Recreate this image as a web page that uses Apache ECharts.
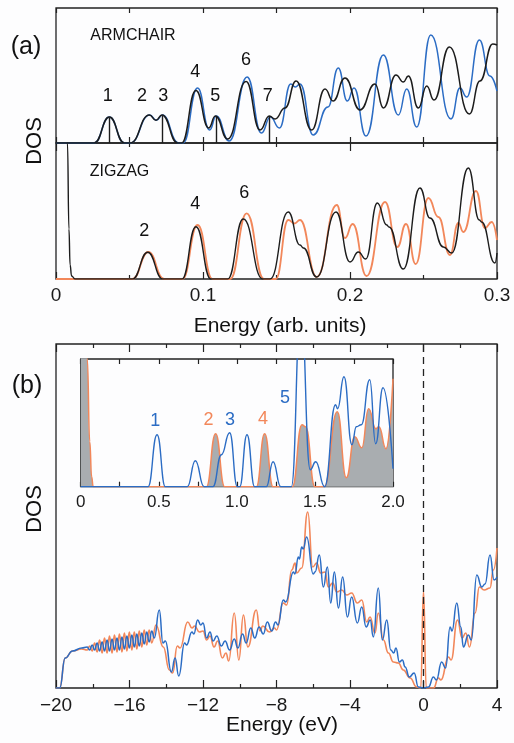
<!DOCTYPE html>
<html><head><meta charset="utf-8">
<script src="https://cdn.jsdelivr.net/npm/echarts@6/dist/echarts.min.js"></script>
<style>html,body{margin:0;padding:0;background:#fdfdfe}#c{width:514px;height:743px}</style>
</head><body><div id="c"></div><script>
// ---- Panel (a) ARMCHAIR: [energy (arb. units), DOS] ----
const armchairBlack = [[0,0],[0.026,0],[0.0363,26],[0.0465,0],[0.0505,0],[0.0635,28],[0.068,22.7],[0.0721,28],[0.0828,0],[0.0855,0],[0.0952,52.6],[0.1039,15],[0.1084,27],[0.1168,4],[0.1293,61.6],[0.1388,13],[0.1451,27],[0.149,24],[0.1558,35],[0.1633,62],[0.1739,13],[0.183,54],[0.1885,42],[0.1966,65],[0.2068,33],[0.217,59],[0.2227,35],[0.2313,68],[0.2363,61],[0.2397,67],[0.2465,35],[0.2522,57],[0.2571,43],[0.2676,96],[0.2812,29],[0.2884,62],[0.2971,99],[0.3,98]];
const armchairBlue = [[0,0],[0.026,0],[0.0363,26],[0.0465,0],[0.0505,0],[0.0638,28],[0.0683,22.7],[0.0724,28],[0.0833,0],[0.0865,0],[0.0963,55],[0.1045,13],[0.109,27],[0.1178,2],[0.13,66],[0.1398,10],[0.1458,26],[0.152,15],[0.1597,59],[0.1628,56],[0.166,59],[0.175,8],[0.185,36],[0.192,75],[0.1982,42],[0.2027,55],[0.2109,7],[0.2227,88],[0.2329,28],[0.2386,54],[0.2454,16],[0.2549,108],[0.2687,24],[0.2748,55],[0.2794,46],[0.288,103],[0.2952,67],[0.3,52]];
const armchairSticks = [[0.0363,25],[0.0726,27],[0.1088,26],[0.1451,27]];
const armchairPeakLabels = ['1','2','3','4','5','6','7'];
// ---- Panel (a) ZIGZAG ----
const zigzagBlack = [[0,900],[0.005,400],[0.0078,136],[0.0088,50],[0.0096,14],[0.0106,3],[0.013,0],[0.052,0],[0.0624,26.7],[0.0726,0],[0.0857,0],[0.0952,52.3],[0.1054,0],[0.1168,0],[0.1274,60],[0.1406,0],[0.1456,0],[0.158,67],[0.166,34],[0.1683,31],[0.1773,2],[0.1905,67],[0.2,17],[0.2057,27],[0.2107,20],[0.2186,76],[0.225,54],[0.2265,52],[0.2363,10],[0.2476,91],[0.2544,61],[0.2635,32],[0.2692,26],[0.2805,111],[0.288,59],[0.2895,57],[0.2986,16],[0.3,26]];
const zigzagOrange = [[0,0],[0.052,0],[0.0628,27],[0.0735,0],[0.086,0],[0.0963,54],[0.1065,0],[0.1185,0],[0.1297,65.7],[0.1415,0],[0.1495,0],[0.158,59],[0.1622,55.5],[0.166,59],[0.1773,2],[0.191,74],[0.1966,41],[0.2018,55],[0.2113,3],[0.2238,77],[0.2322,32],[0.2381,55],[0.2447,15],[0.2533,81],[0.2601,62],[0.268,24],[0.2737,56],[0.2771,47],[0.2857,88],[0.2918,51],[0.2964,57],[0.3,39]];
const zigzagPeakLabels = ['2','4','6'];
// ---- Panel (b) main: [energy (eV), DOS] ----
const bBlue = [[-20,0],[-19.8,0],[-19.5,30],[-19.1,37],[-18.6,40],[-18.3,41],[-18.17,38],[-18.03,43],[-17.9,38],[-17.76,45],[-17.63,37],[-17.49,46],[-17.36,37],[-17.22,48],[-17.09,37],[-16.95,49],[-16.82,38],[-16.68,50],[-16.55,38],[-16.41,51],[-16.28,39],[-16.14,52],[-16.01,40],[-15.87,53],[-15.74,41],[-15.6,54],[-15.47,42],[-15.33,55],[-15.2,44],[-15.06,56],[-14.93,46],[-14.79,57],[-14.65,50],[-14.38,78],[-14.18,45],[-14.05,47],[-13.72,16],[-13.52,30],[-13.32,12],[-13.0,45],[-12.9,43],[-12.6,56],[-12.5,54],[-12.29,68],[-12.12,63],[-12.0,65],[-11.8,50],[-11.62,56],[-11.45,47],[-11.25,52],[-11.0,42],[-10.8,47],[-10.55,38],[-10.3,49],[-10.1,40],[-9.85,54],[-9.65,45],[-9.4,60],[-9.18,50],[-8.95,61],[-8.72,54],[-8.5,66],[-8.26,57],[-8.05,66],[-7.92,63],[-7.63,88],[-7.5,86],[-7.08,116],[-7.0,114],[-6.81,131],[-6.75,129],[-6.63,141],[-6.55,139],[-6.36,151],[-6.0,114],[-5.9,116],[-5.67,133],[-5.45,101],[-5.23,121],[-5.05,85],[-4.85,116],[-4.63,80],[-4.4,111],[-4.14,71],[-3.91,91],[-3.6,65],[-3.36,81],[-3.12,61],[-2.9,68],[-2.73,51],[-2.46,100],[-2.24,48],[-2.0,68],[-1.78,38],[-1.62,35],[-1.5,40],[-1.31,26],[-1.15,28],[-1.0,21],[-0.77,11],[-0.51,15],[-0.28,1],[0,0],[0.27,1],[0.54,11],[0.7,8],[0.99,26],[1.2,20],[1.45,61],[1.55,57],[1.81,85],[2.03,61],[2.17,41],[2.44,53],[2.6,48],[2.9,113],[3.17,101],[3.35,104],[3.62,133],[3.84,108],[4.0,111]];
const bOrange = [[-20,0],[-19.8,0],[-19.5,30],[-19.1,37],[-18.6,39],[-18.3,38],[-18.17,42],[-18.03,37],[-17.9,45],[-17.76,36],[-17.63,48],[-17.49,35],[-17.36,50],[-17.22,35],[-17.09,52],[-16.95,35],[-16.82,53],[-16.68,36],[-16.55,54],[-16.41,36],[-16.28,55],[-16.14,37],[-16.01,56],[-15.87,38],[-15.74,56],[-15.6,39],[-15.47,57],[-15.33,41],[-15.2,58],[-15.06,43],[-14.93,58],[-14.79,45],[-14.56,63],[-14.16,41],[-13.83,18],[-13.65,15],[-13.4,42],[-13.25,40],[-12.83,66],[-12.6,60],[-12.45,62],[-12.2,56],[-12.0,57],[-11.8,48],[-11.62,52],[-11.4,41],[-11.2,47],[-10.95,30],[-10.75,35],[-10.6,27],[-10.3,75],[-10.05,28],[-9.8,73],[-9.56,41],[-9.1,78],[-8.9,57],[-8.75,62],[-8.38,56],[-8.11,60],[-8.0,58],[-7.63,85],[-7.45,83],[-7.17,118],[-6.99,125],[-6.9,115],[-6.63,120],[-6.3,176],[-6.03,121],[-5.81,125],[-5.6,115],[-5.36,116],[-5.18,101],[-4.94,105],[-4.72,96],[-4.45,98],[-4.18,93],[-3.91,95],[-3.6,85],[-3.36,88],[-3.09,66],[-2.91,71],[-2.64,55],[-2.46,75],[-2.18,48],[-1.91,35],[-1.64,26],[-1.37,25],[-1.1,18],[-0.73,10],[-0.37,1],[-0.15,0],[0.0,97],[0.15,0],[0.55,0],[0.81,10],[0.95,8],[1.36,31],[1.5,28],[1.85,68],[2.1,50],[2.3,55],[2.5,41],[2.81,75],[3.04,101],[3.3,98],[3.62,100],[3.8,118],[4.0,140]];
// ---- Panel (b) inset ----
const insetOrange = [[0,600],[0.035,200],[0.042,128],[0.058,45],[0.07,10],[0.08,0],[0.805,0],[0.864,53],[0.922,0],[1.125,0],[1.178,53],[1.232,0],[1.355,0],[1.417,62],[1.44,60],[1.5,0],[1.56,0],[1.643,75],[1.701,9],[1.755,50],[1.8,39],[1.844,78],[1.89,58],[1.91,60],[1.955,38],[2.0,108]];
const insetBlue = [[0,0],[0.431,0],[0.489,52],[0.542,0],[0.683,0],[0.734,26],[0.79,0],[0.847,0],[0.901,32],[0.954,54],[1.003,0],[1.018,0],[1.065,52],[1.114,0],[1.189,0],[1.232,25],[1.281,0],[1.349,0],[1.41,180],[1.47,17],[1.505,25],[1.562,0],[1.632,82],[1.645,78],[1.686,110],[1.737,42],[1.765,60],[1.797,62],[1.851,107],[1.889,43],[1.936,99],[2.0,18]];
const insetPeakLabels = ['1','2','3','4','5'];

const BLUE = '#2b6cc4', ORANGE = '#f2875a', BLACK = '#1c1c1c', GRAY = '#a9adb0';
const FONT = "'Liberation Sans', Arial, Helvetica, sans-serif";

const chart = echarts.init(document.getElementById('c'), null, {renderer: 'canvas'});

const gridStyle = {show: true, borderColor: '#222', borderWidth: 1.3, backgroundColor: 'transparent', containLabel: false};
const grids = [
  Object.assign({left: 56, top: 8, width: 441, height: 135}, gridStyle),
  Object.assign({left: 56, top: 143, width: 441, height: 136}, gridStyle),
  Object.assign({left: 56, top: 344, width: 441, height: 344}, gridStyle),
  Object.assign({left: 80.7, top: 359, width: 312.3, height: 127.7}, gridStyle)
];
const tickLine = {color: '#222', width: 1.2};
function xAx(gridIndex, position, min, max, interval, opts) {
  return Object.assign({
    type: 'value', gridIndex, position, min, max, interval,
    axisLine: {show: false}, splitLine: {show: false},
    axisTick: {show: true, inside: true, length: 6, lineStyle: tickLine},
    axisLabel: {show: false}
  }, opts || {});
}
const labelStyle = (size, margin, fmt) => ({show: true, fontSize: size, fontFamily: FONT, color: '#1a1a1a', margin, formatter: fmt});
const fmtA = v => v === 0 ? '0' : String(+v.toFixed(2));
const fmtB = v => String(v).replace('-', '\u2212');
const fmtI = v => v === 0 ? '0' : v.toFixed(1);

const xAxes = [
  xAx(0, 'bottom', 0, 0.3, 0.05, {axisTick: {inside: true, length: 6, lineStyle: tickLine}}),
  xAx(0, 'top', 0, 0.3, 0.05, {axisTick: {inside: true, length: 5, lineStyle: tickLine}}),
  xAx(1, 'bottom', 0, 0.3, 0.1, {axisTick: {inside: true, length: 7, lineStyle: tickLine}, minorTick: {show: true, splitNumber: 2, length: 4, lineStyle: tickLine}, axisLabel: labelStyle(19, 7, fmtA)}),
  xAx(1, 'top', 0, 0.3, 0.1, {axisTick: {inside: true, length: 8, lineStyle: tickLine}, minorTick: {show: true, splitNumber: 2, length: 4, lineStyle: tickLine}}),
  xAx(2, 'bottom', -20, 4, 4, {axisTick: {inside: true, length: 8, lineStyle: tickLine}, minorTick: {show: true, splitNumber: 2, length: 4, lineStyle: tickLine}, axisLabel: labelStyle(19, 8, fmtB)}),
  xAx(2, 'top', -20, 4, 4, {axisTick: {inside: true, length: 8, lineStyle: tickLine}, minorTick: {show: true, splitNumber: 2, length: 4, lineStyle: tickLine}}),
  xAx(3, 'bottom', 0, 2, 0.5, {axisTick: {inside: true, length: 5, lineStyle: tickLine}, minorTick: {show: true, splitNumber: 2, length: 5, lineStyle: tickLine}, axisLabel: labelStyle(17, 7, fmtI)}),
  xAx(3, 'top', 0, 2, 0.5, {axisTick: {inside: true, length: 5, lineStyle: tickLine}, minorTick: {show: true, splitNumber: 2, length: 5, lineStyle: tickLine}})
];
const yMax = [135, 136, 344, 127.7];
const yAxes = yMax.map((m, i) => ({type: 'value', gridIndex: i, min: 0, max: m, show: false}));

function line(data, color, xi, yi, width, extra) {
  return Object.assign({
    type: 'line', data, xAxisIndex: xi, yAxisIndex: yi,
    showSymbol: false, symbol: 'none', smooth: 0.5, smoothMonotone: 'x', clip: true,
    silent: true, animation: false,
    lineStyle: {color, width: width || 1.5}
  }, extra || {});
}

const series = [
  line(armchairBlue, BLUE, 0, 0, 1.5),
  line(armchairBlack, BLACK, 0, 0, 1.5, {
    markLine: {silent: true, symbol: ['none', 'none'], label: {show: false}, animation: false,
      lineStyle: {color: BLACK, width: 1.4, type: 'solid'},
      data: armchairSticks.map(s => [{coord: [s[0], 0]}, {coord: [s[0], s[1]]}])}
  }),
  line(zigzagOrange, ORANGE, 2, 1, 1.8),
  line(zigzagBlack, BLACK, 2, 1, 1.4),
  line(bOrange, ORANGE, 4, 2, 1.6),
  line(bBlue, BLUE, 4, 2, 1.5, {
    markLine: {silent: true, symbol: ['none', 'none'], label: {show: false}, animation: false,
      lineStyle: {color: '#222', width: 1.3, type: [7, 5]},
      data: [{xAxis: 0}]}
  }),
  line(insetOrange, ORANGE, 6, 3, 1.5, {areaStyle: {color: GRAY, opacity: 1}}),
  line(insetBlue, BLUE, 6, 3, 1.4)
];

function txt(text, x, y, size, color, rot) {
  return {type: 'text', x, y, rotation: rot || 0, z: 100, silent: true,
    style: {text, x: 0, y: 0, fill: color || '#111', font: size + 'px ' + FONT,
      align: 'center', verticalAlign: 'middle', textAlign: 'center', textVerticalAlign: 'middle'}};
}
const acLabelPos = [[107.7,96.5],[142,96.5],[163.3,96.5],[195.3,72],[215.3,96.5],[246,60.5],[267.7,96.5]];
const zzLabelPos = [[144.3,231],[195.3,204.5],[244.3,193]];
const inLabelPos = [[155.3,421],[208.5,420],[230,420],[263,419],[285,398.5]];
const inLabelCol = [BLUE, ORANGE, BLUE, ORANGE, BLUE];

const graphic = [
  txt('(a)', 26, 47.5, 25),
  txt('(b)', 27, 386, 25),
  txt('DOS', 35, 141, 22, '#111', Math.PI / 2),
  txt('DOS', 35, 509, 22, '#111', Math.PI / 2),
  txt('Energy (arb. units)', 280, 326, 21),
  txt('Energy (eV)', 282, 725, 21),
  txt('ARMCHAIR', 133, 36, 16),
  txt('ZIGZAG', 119.5, 172, 16)
];
armchairPeakLabels.forEach((t, i) => graphic.push(txt(t, acLabelPos[i][0], acLabelPos[i][1], 18)));
zigzagPeakLabels.forEach((t, i) => graphic.push(txt(t, zzLabelPos[i][0], zzLabelPos[i][1], 18)));
insetPeakLabels.forEach((t, i) => graphic.push(txt(t, inLabelPos[i][0], inLabelPos[i][1], 18, inLabelCol[i])));

chart.setOption({
  backgroundColor: '#fdfdfe',
  animation: false,
  grid: grids,
  xAxis: xAxes,
  yAxis: yAxes,
  series,
  graphic
});
</script></body></html>
